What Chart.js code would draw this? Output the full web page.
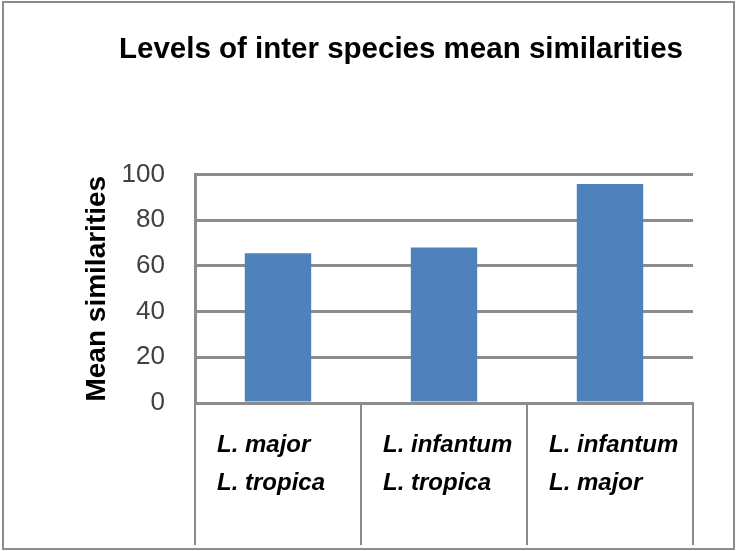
<!DOCTYPE html>
<html lang="en">
<head>
    <meta charset="UTF-8">
    <title>Levels of inter species mean similarities</title>
    <script src="https://cdn.jsdelivr.net/npm/chart.js"></script>
    <style>
        body { margin: 0; background: #fff; }
        .wrap { position: relative; width: 737px; height: 551px; }
        .frame {
            position: absolute; left: 2px; top: 1px; width: 729px; height: 545px;
            border: 2px solid #8c8c8c; pointer-events: none;
        }
    </style>
</head>
<body>
    <div class="wrap">
        <canvas id="simChart" width="737" height="551"></canvas>
        <div class="frame"></div>
    </div>

    <script>
        const pairs = [
            ['L. major', 'L. tropica'],
            ['L. infantum', 'L. tropica'],
            ['L. infantum', 'L. major']
        ];
        const meanSimilarities = [65.5, 68, 95.8];
        const yTicks = [0, 20, 40, 60, 80, 100];

        const gridGrey = '#8c8c8c';

        const ctx = document.getElementById('simChart').getContext('2d');
        new Chart(ctx, {
            type: 'bar',
            data: {
                labels: pairs,
                datasets: [{
                    data: meanSimilarities,
                    backgroundColor: '#4f81bd',
                    borderWidth: 0,
                    categoryPercentage: 1,
                    barPercentage: 0.4
                }]
            },
            options: {
                responsive: false,
                animation: false,
                layout: { padding: { left: 109, right: 44, top: 0, bottom: 0 } },
                plugins: {
                    legend: { display: false },
                    tooltip: { enabled: false },
                    title: {
                        display: true,
                        text: 'Levels of inter species mean similarities',
                        color: '#000',
                        font: { family: '"Liberation Sans", sans-serif', size: 29.5, weight: 'bold', lineHeight: 1.2 },
                        padding: { top: 32, bottom: 107 }
                    }
                },
                scales: {
                    y: {
                        min: 0,
                        max: 100,
                        afterBuildTicks: s => { s.ticks = yTicks.map(v => ({ value: v })); },
                        afterFit: s => { s.width = 86; },
                        border: { display: true, color: gridGrey, width: 3 },
                        grid: { color: gridGrey, lineWidth: 3, drawTicks: false },
                        ticks: {
                            padding: 30,
                            color: '#404040',
                            font: { family: '"Liberation Sans", sans-serif', size: 26 }
                        },
                        title: {
                            display: true,
                            text: 'Mean similarities',
                            color: '#000',
                            padding: { top: -29, bottom: 0 },
                            font: { family: '"Liberation Sans", sans-serif', size: 28, weight: 'bold' }
                        }
                    },
                    x: {
                        afterFit: s => { s.height = 148; },
                        border: { display: true, color: gridGrey, width: 3 },
                        grid: {
                            offset: true,
                            drawOnChartArea: false,
                            drawTicks: true,
                            tickLength: 142,
                            color: gridGrey,
                            lineWidth: 2
                        },
                        ticks: {
                            autoSkip: false,
                            maxRotation: 0,
                            minRotation: 0,
                            align: 'start',
                            labelOffset: -61,
                            padding: -119,
                            color: '#000',
                            font: { family: '"Liberation Sans", sans-serif', size: 24, weight: 'bold', style: 'italic', lineHeight: 1.58 }
                        }
                    }
                }
            }
        });
    </script>
</body>
</html>
